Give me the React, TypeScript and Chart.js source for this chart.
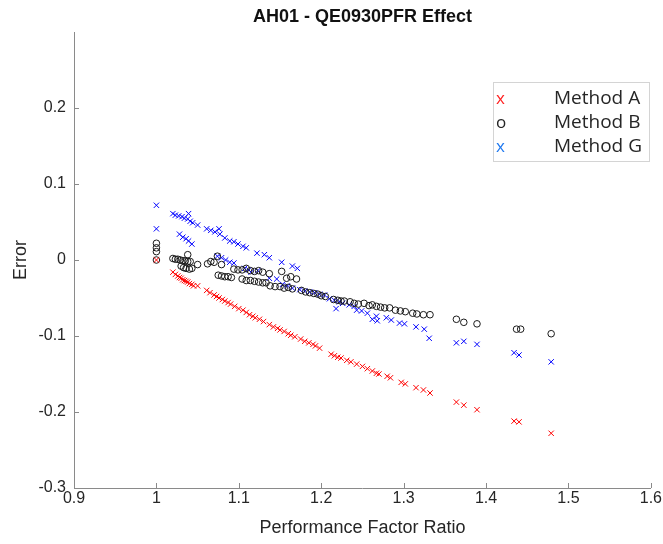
import React, { useEffect, useRef } from 'react';
import { Chart, registerables } from 'chart.js';

Chart.register(...registerables);

const titleText = 'AH01 - QE0930PFR Effect';
const xAxisTitle = 'Performance Factor Ratio';
const yAxisTitle = 'Error';
const seriesNames = ['Method A', 'Method B', 'Method G'];
const legendGlyphs = ['x', 'o', 'x'];

const methodAX = [
  1.000, 1.020, 1.023, 1.026, 1.028, 1.030, 1.032, 1.034, 1.036, 1.038, 1.040, 1.043, 1.045, 1.050,
  1.061, 1.065, 1.070, 1.073, 1.076, 1.080, 1.083, 1.087, 1.090, 1.095, 1.100, 1.105, 1.109, 1.113,
  1.117, 1.120, 1.125, 1.130, 1.137, 1.142, 1.147, 1.150, 1.155, 1.160, 1.163, 1.168, 1.175, 1.180,
  1.185, 1.190, 1.193, 1.198, 1.212, 1.216, 1.220, 1.224, 1.231, 1.236, 1.243, 1.250, 1.256, 1.262,
  1.267, 1.270, 1.280, 1.284, 1.297, 1.302, 1.315, 1.324, 1.332, 1.364, 1.373, 1.389, 1.434, 1.440,
  1.479,
];
const methodAY = [
  0.000, -0.016, -0.019, -0.021, -0.023, -0.024, -0.026, -0.027, -0.028, -0.029, -0.031, -0.032, -0.034, -0.034,
  -0.040, -0.043, -0.046, -0.048, -0.050, -0.052, -0.054, -0.056, -0.058, -0.061, -0.064, -0.066, -0.069, -0.072,
  -0.074, -0.076, -0.078, -0.081, -0.085, -0.088, -0.090, -0.092, -0.094, -0.097, -0.099, -0.101, -0.104, -0.107,
  -0.109, -0.111, -0.113, -0.116, -0.124, -0.126, -0.128, -0.129, -0.132, -0.134, -0.137, -0.140, -0.143, -0.146,
  -0.149, -0.150, -0.153, -0.155, -0.161, -0.163, -0.168, -0.171, -0.175, -0.187, -0.191, -0.197, -0.212, -0.213,
  -0.228,
];

const methodBX = [
  1.000, 1.000, 1.000, 1.000, 1.020, 1.023, 1.026, 1.029, 1.032, 1.035, 1.038, 1.041, 1.038, 1.030,
  1.033, 1.036, 1.040, 1.043, 1.050, 1.062, 1.066, 1.070, 1.074, 1.079, 1.075, 1.079, 1.083, 1.087,
  1.091, 1.094, 1.099, 1.104, 1.109, 1.114, 1.119, 1.124, 1.129, 1.104, 1.109, 1.114, 1.119, 1.124,
  1.129, 1.133, 1.137, 1.152, 1.158, 1.163, 1.138, 1.144, 1.150, 1.155, 1.160, 1.165, 1.170, 1.176,
  1.181, 1.186, 1.191, 1.196, 1.200, 1.205, 1.215, 1.220, 1.224, 1.228, 1.235, 1.240, 1.245, 1.252,
  1.258, 1.262, 1.267, 1.272, 1.277, 1.283, 1.290, 1.296, 1.302, 1.311, 1.316, 1.324, 1.332, 1.364,
  1.373, 1.389, 1.437, 1.442, 1.479,
];
const methodBY = [
  0.022, 0.016, 0.011, 0.000, 0.002, 0.001, 0.001, 0.000, -0.001, -0.001, -0.002, -0.002, 0.007, -0.008,
  -0.010, -0.011, -0.012, -0.011, -0.006, -0.005, -0.002, -0.003, 0.005, -0.006, -0.020, -0.021, -0.022, -0.022,
  -0.023, -0.012, -0.013, -0.013, -0.011, -0.014, -0.015, -0.014, -0.016, -0.025, -0.027, -0.027, -0.028, -0.029,
  -0.030, -0.030, -0.018, -0.015, -0.024, -0.022, -0.034, -0.035, -0.035, -0.037, -0.036, -0.038, -0.025, -0.040,
  -0.042, -0.043, -0.044, -0.045, -0.047, -0.048, -0.052, -0.053, -0.054, -0.054, -0.055, -0.057, -0.058, -0.057,
  -0.060, -0.059, -0.061, -0.062, -0.063, -0.063, -0.066, -0.067, -0.068, -0.070, -0.071, -0.072, -0.072, -0.078,
  -0.082, -0.084, -0.091, -0.091, -0.097,
];

const methodGX = [
  1.000, 1.000, 1.020, 1.023, 1.027, 1.031, 1.034, 1.038, 1.039, 1.041, 1.044, 1.050, 1.061, 1.066,
  1.071, 1.076, 1.077, 1.083, 1.089, 1.094, 1.099, 1.105, 1.109, 1.122, 1.131, 1.137, 1.152, 1.165,
  1.171, 1.028, 1.032, 1.036, 1.039, 1.043, 1.074, 1.079, 1.084, 1.089, 1.094, 1.107, 1.112, 1.115,
  1.123, 1.137, 1.146, 1.153, 1.159, 1.165, 1.174, 1.180, 1.186, 1.192, 1.198, 1.204, 1.210, 1.216,
  1.222, 1.226, 1.218, 1.234, 1.240, 1.243, 1.249, 1.256, 1.262, 1.267, 1.268, 1.279, 1.285, 1.295,
  1.301, 1.315, 1.325, 1.331, 1.364, 1.373, 1.389, 1.434, 1.440, 1.479,
];
const methodGY = [
  0.072, 0.041, 0.061, 0.059, 0.058, 0.057, 0.055, 0.054, 0.061, 0.051, 0.049, 0.046, 0.041, 0.039,
  0.037, 0.041, 0.034, 0.029, 0.025, 0.024, 0.021, 0.018, 0.016, 0.009, 0.007, 0.003, -0.003, -0.008,
  -0.011, 0.034, 0.030, 0.028, 0.025, 0.021, 0.005, 0.003, 0.000, -0.003, -0.004, -0.011, -0.013, -0.016,
  -0.014, -0.024, -0.025, -0.032, -0.034, -0.037, -0.039, -0.041, -0.042, -0.043, -0.045, -0.046, -0.051, -0.053,
  -0.055, -0.057, -0.064, -0.059, -0.061, -0.066, -0.067, -0.070, -0.078, -0.074, -0.080, -0.076, -0.079, -0.083,
  -0.084, -0.088, -0.091, -0.103, -0.109, -0.107, -0.111, -0.122, -0.125, -0.134,
];

const xMin = 0.9;
const xMax = 1.6;
const yMin = -0.3;
const yMax = 0.3;
const tickStep = 0.1;

const toPoints = (xs: number[], ys: number[]) => xs.map((x, i) => ({ x, y: ys[i] }));
const fmt = (v: number) => Number(Number(v).toFixed(1)).toString();

const AXIS_COLOR = '#8a8a8a';
const TEXT_COLOR = '#262626';

const inwardTicks = {
  id: 'inwardTicks',
  afterDraw(chart: any) {
    const { ctx, chartArea, scales } = chart;
    const xs = scales.x;
    const ys = scales.y;
    ctx.save();
    ctx.strokeStyle = AXIS_COLOR;
    ctx.lineWidth = 1;
    ctx.beginPath();
    xs.ticks.forEach((t: any) => {
      const px = Math.round(xs.getPixelForValue(t.value)) + 0.5;
      ctx.moveTo(px, chartArea.bottom);
      ctx.lineTo(px, chartArea.bottom - 5);
    });
    ys.ticks.forEach((t: any) => {
      const py = Math.round(ys.getPixelForValue(t.value)) + 0.5;
      ctx.moveTo(chartArea.left, py);
      ctx.lineTo(chartArea.left + 5, py);
    });
    ctx.stroke();
    ctx.restore();
  },
};

const boxLegend = {
  id: 'boxLegend',
  afterDraw(chart: any) {
    const { ctx } = chart;
    const left = 493;
    const top = 82;
    const width = 156;
    const height = 79;
    ctx.save();
    ctx.fillStyle = '#ffffff';
    ctx.fillRect(left, top, width, height);
    ctx.strokeStyle = '#d4d4d4';
    ctx.lineWidth = 1;
    ctx.strokeRect(left + 0.5, top + 0.5, width, height);
    ctx.textBaseline = 'middle';
    const glyphColors = ['#ff2020', '#262626', '#1e78f0'];
    chart.data.datasets.forEach((ds: any, i: number) => {
      const cy = top + 17 + i * 24;
      ctx.font = '17px "Open Sans", sans-serif';
      ctx.fillStyle = glyphColors[i];
      ctx.textAlign = 'left';
      ctx.fillText(legendGlyphs[i], left + 3, cy);
      ctx.font = '19px "Open Sans", sans-serif';
      ctx.fillStyle = TEXT_COLOR;
      ctx.fillText(ds.label, left + 61, cy);
    });
    ctx.restore();
  },
};

export default function App() {
  const canvasRef = useRef<HTMLCanvasElement | null>(null);

  useEffect(() => {
    if (!canvasRef.current) return;
    const chart = new Chart(canvasRef.current, {
      type: 'scatter',
      data: {
        datasets: [
          {
            label: seriesNames[0],
            data: toPoints(methodAX, methodAY),
            pointStyle: 'crossRot',
            pointRadius: 3.8,
            borderColor: '#ff0000',
            backgroundColor: '#ff0000',
            borderWidth: 1,
          },
          {
            label: seriesNames[1],
            data: toPoints(methodBX, methodBY),
            pointStyle: 'circle',
            pointRadius: 3.3,
            borderColor: '#1a1a1a',
            backgroundColor: 'rgba(0,0,0,0)',
            borderWidth: 1,
          },
          {
            label: seriesNames[2],
            data: toPoints(methodGX, methodGY),
            pointStyle: 'crossRot',
            pointRadius: 3.8,
            borderColor: '#0000ff',
            backgroundColor: '#0000ff',
            borderWidth: 1,
          },
        ],
      },
      options: {
        responsive: false,
        animation: false,
        events: [],
        layout: { padding: 0 },
        plugins: {
          legend: { display: false },
          tooltip: { enabled: false },
          title: {
            display: true,
            text: titleText,
            fullSize: false,
            color: '#111111',
            font: { family: '"Liberation Sans", Arial, sans-serif', size: 18, weight: 'bold' },
            padding: { top: 6, bottom: 4.4 },
          },
        },
        scales: {
          x: {
            type: 'linear',
            min: xMin,
            max: xMax,
            ticks: {
              stepSize: tickStep,
              color: TEXT_COLOR,
              font: { family: '"Liberation Sans", Arial, sans-serif', size: 16 },
              padding: 1,
              maxRotation: 0,
              callback: (v: any) => fmt(v),
            },
            grid: { display: false, drawTicks: false },
            border: { display: true, color: AXIS_COLOR, width: 1 },
            title: {
              display: true,
              text: xAxisTitle,
              color: TEXT_COLOR,
              font: { family: '"Liberation Sans", Arial, sans-serif', size: 18 },
              padding: { top: 0, bottom: 5 },
            },
            afterFit: (scale: any) => {
              scale.height = 56;
            },
          },
          y: {
            type: 'linear',
            min: yMin,
            max: yMax,
            ticks: {
              stepSize: tickStep,
              color: TEXT_COLOR,
              font: { family: '"Liberation Sans", Arial, sans-serif', size: 16 },
              padding: 8,
              callback: (v: any) => fmt(v),
            },
            afterBuildTicks: (scale: any) => {
              scale.ticks = scale.ticks.filter((t: any) => t.value < yMax - 1e-9);
            },
            grid: { display: false, drawTicks: false },
            border: { display: true, color: AXIS_COLOR, width: 1 },
            title: {
              display: true,
              text: yAxisTitle,
              color: TEXT_COLOR,
              font: { family: '"Liberation Sans", Arial, sans-serif', size: 18 },
              padding: { top: 10, bottom: 0 },
            },
            afterFit: (scale: any) => {
              scale.width = 74;
            },
          },
        },
      },
      plugins: [inwardTicks, boxLegend],
    });
    return () => chart.destroy();
  }, []);

  return (
    <div style={{ position: 'absolute', left: 0, top: 0, width: 663, height: 544, background: '#fff' }}>
      <canvas ref={canvasRef} width={663} height={544} />
    </div>
  );
}
